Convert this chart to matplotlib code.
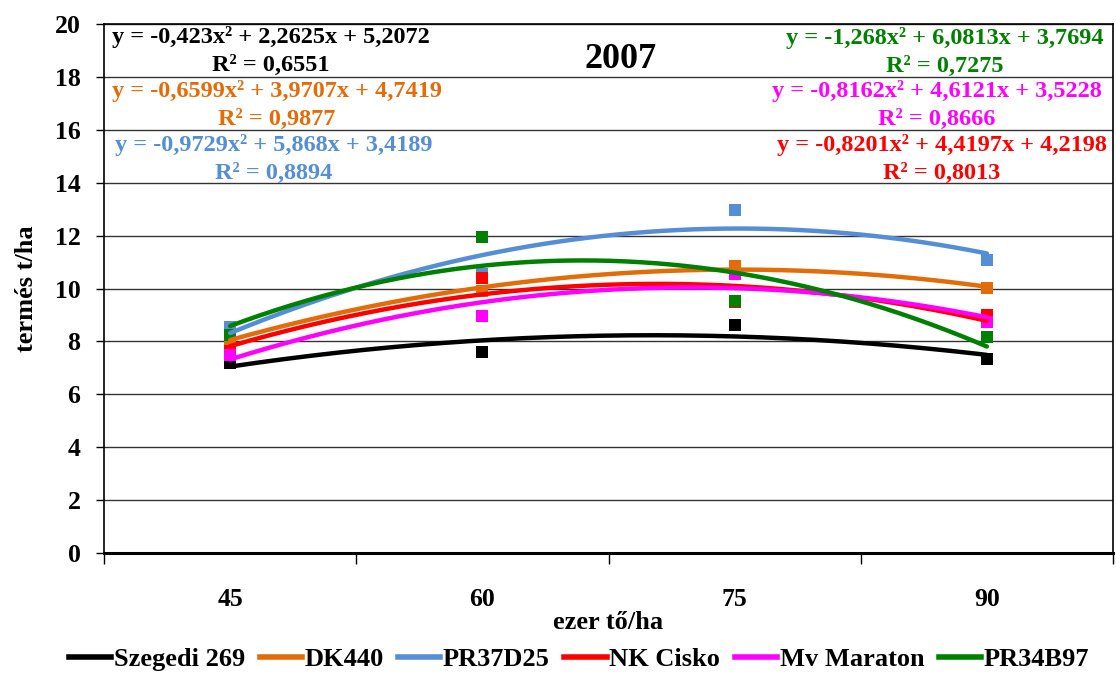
import numpy as np
import matplotlib.pyplot as plt
from matplotlib.lines import Line2D

plt.rcParams['font.family'] = ['Liberation Serif', 'DejaVu Serif']
plt.rcParams['font.weight'] = 'bold'
plt.rcParams['axes.labelweight'] = 'bold'

density = ["45", "60", "75", "90"]
names = ["Szegedi 269", "DK440", "PR37D25", "NK Cisko", "Mv Maraton", "PR34B97"]
colors = ["#000000", "#E36C09", "#558ED5", "#FF0000", "#FF00FF", "#008000"]

# yield t/ha per density
szegedi = [7.19, 7.60, 8.63, 7.34]
dk440 = [8.10, 9.89, 10.86, 10.02]
pr37d25 = [8.55, 10.56, 12.97, 11.09]
nk_cisko = [7.62, 10.38, 9.50, 8.98]
mv_maraton = [7.50, 8.95, 10.54, 8.74]
pr34b97 = [8.23, 11.93, 9.53, 8.16]
yields = [szegedi, dk440, pr37d25, nk_cisko, mv_maraton, pr34b97]

# polynomial trend coefficients (a, b, c) and R2
coefs = [(-0.423, 2.2625, 5.2072), (-0.6599, 3.9707, 4.7419), (-0.9729, 5.868, 3.4189),
         (-0.8201, 4.4197, 4.2198), (-0.8162, 4.6121, 3.5228), (-1.268, 6.0813, 3.7694)]
r2 = [0.6551, 0.9877, 0.8894, 0.8013, 0.8666, 0.7275]
eq_pos = [(271, 51), (277, 105), (274, 159), (942, 159), (937, 105), (945, 52)]

W, H = 1116, 673
fig = plt.figure(figsize=(W / 100, H / 100), dpi=100)
ax = fig.add_axes([104 / W, 1 - 553 / H, (1113 - 104) / W, (553 - 24) / H])

x = np.arange(1, 5)
xs = np.linspace(1, 4, 200)
for ys, col in zip(yields, colors):
    ax.scatter(x, ys, marker='s', s=75, color=col, linewidths=0, zorder=3)
for (a, b, c), col in zip(coefs, colors):
    ax.plot(xs, a * xs**2 + b * xs + c, color=col, lw=3.2, zorder=4, solid_capstyle='round')

ax.set_xlim(0.5, 4.5)
ax.set_ylim(0, 20)
ax.set_yticks(range(0, 21, 2))
ax.set_xticks(x)
ax.set_xticklabels(density)
ax.set_xticks(np.arange(0.5, 4.6, 1), minor=True)
ax.tick_params(axis='x', which='major', length=0, pad=25, labelsize=18.5)
ax.tick_params(axis='x', which='minor', length=8, width=1, direction='out')
ax.tick_params(axis='y', length=6, width=1, labelsize=18.5, pad=11)
ax.grid(axis='y', color='#333333', lw=1)
ax.set_axisbelow(True)
for sp in ax.spines.values():
    sp.set_color('black')
    sp.set_linewidth(1.2)
ax.spines['bottom'].set_linewidth(2.2)

ax.set_ylabel("termés t/ha", fontsize=19, fontweight='bold', labelpad=12)
ax.set_xlabel("ezer tő/ha", fontsize=19, fontweight='bold', labelpad=0)

fig.text(621 / W, 1 - 60 / H, "2007", fontsize=26, fontweight='bold', ha='center', va='center')

for (a, b, c), r, col, (px, py) in zip(coefs, r2, colors, eq_pos):
    fa = f"{a:g}".replace('.', ',')
    fb = f"{b:g}".replace('.', ',')
    fc = f"{c:g}".replace('.', ',')
    fr = f"{r:.4f}".replace('.', ',')
    label = f"y = {fa}x² + {fb}x + {fc}\nR² = {fr}"
    fig.text(px / W, 1 - py / H, label, color=col, fontsize=17.5, fontweight='bold',
             ha='center', va='center', multialignment='center', linespacing=1.4)

handles = [Line2D([], [], color=col, lw=4) for col in colors]
fig.legend(handles, names, loc='center', bbox_to_anchor=(579 / W, 1 - 659 / H), ncol=6,
           frameon=False, prop={'size': 19, 'weight': 'bold'}, handlelength=1.6,
           handletextpad=0.1, columnspacing=0.55)

fig.savefig("out.png", dpi=100)
